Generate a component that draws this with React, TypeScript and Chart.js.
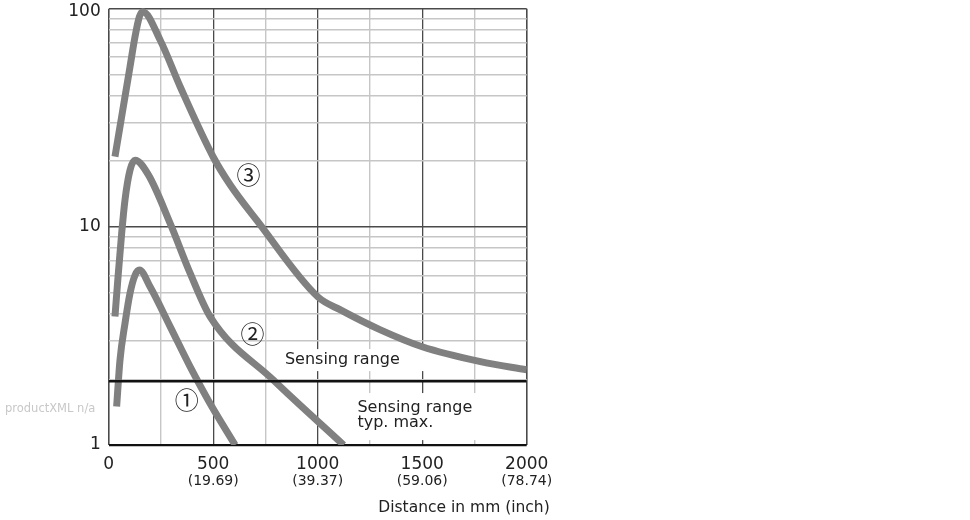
import React, { useEffect, useRef } from "react";
import { Chart, registerables } from "chart.js";

Chart.register(...registerables);

// ---- data ----
const xTicks = [0, 500, 1000, 1500, 2000];
const xTickInch = ["", "(19.69)", "(39.37)", "(59.06)", "(78.74)"];
const yTicks = [1, 10, 100];
const yTickLabels = ["1", "10", "100"];
const yGrid = [1, 2, 3, 4, 5, 6, 7, 8, 9, 10, 20, 30, 40, 50, 60, 70, 80, 90, 100];

const dist1 = [38, 54, 78, 102, 126, 147, 198, 294, 390, 485, 605];
const val1 = [1.5, 2.45, 3.61, 4.96, 6.0, 6.34, 5.31, 3.49, 2.28, 1.55, 1.0];

const dist2 = [30, 46, 62, 78, 102, 126, 190, 294, 390, 485, 789, 1124];
const val2 = [3.88, 6.12, 9.33, 13.3, 18.2, 20.2, 17.3, 10.38, 6.12, 3.88, 1.98, 1.0];

const dist3 = [30, 54, 78, 102, 126, 147, 163, 246, 342, 500, 581, 709, 1000, 1109, 1300, 1500, 1779, 2000];
const val3 = [21.0, 28.8, 39.5, 54.2, 74.4, 91.9, 96.9, 71.9, 43.9, 20.9, 15.6, 10.7, 4.78, 4.16, 3.37, 2.82, 2.41, 2.21];

const sensingRangeDist = [0, 2000];
const sensingRangeVal = [1.96, 1.96];

const curveLabels = ["\u2460", "\u2461", "\u2462"];
const curveLabelDist = [374, 688, 669];
const curveLabelVal = [1.62, 3.27, 17.4];

const xTitle = "Distance in mm (inch)";
const rangeLabel = "Sensing range";
const rangeMaxLabel = ["Sensing range", "typ. max."];
const watermark = "productXML n/a";

const FONT = '"DejaVu Sans", sans-serif';

const pts = (xs: number[], ys: number[]) => xs.map((x, i) => ({ x, y: ys[i] }));

const textPlugin = {
  id: "texts",
  beforeDatasetsDraw(chart: any) {
    const ctx = chart.ctx;
    const xs = chart.scales.x;
    const ys = chart.scales.y;
    ctx.save();
    ctx.font = `16px ${FONT}`;
    ctx.fillStyle = "#fff";
    const cx = xs.getPixelForValue(1118);
    const cy = ys.getPixelForValue(2.45);
    const w = ctx.measureText(rangeLabel).width;
    ctx.fillRect(cx - w / 2 - 5, cy - 11, w + 40, 22);
    const lx = xs.getPixelForValue(1190);
    const ly1 = ys.getPixelForValue(1.477);
    const ly2 = ys.getPixelForValue(1.26);
    const w2 = Math.max(...rangeMaxLabel.map((t) => ctx.measureText(t).width));
    ctx.fillRect(lx - 5, ly1 - 15, w2 + 10, ly2 - ly1 + 32);
    ctx.restore();
  },
  afterDraw(chart: any) {
    const ctx = chart.ctx;
    const xs = chart.scales.x;
    const ys = chart.scales.y;
    ctx.save();
    ctx.fillStyle = "#222";
    ctx.textBaseline = "middle";

    ctx.font = `17px ${FONT}`;
    ctx.textAlign = "right";
    yTicks.forEach((v, i) => {
      const y = Math.max(ys.getPixelForValue(v), 12);
      ctx.fillText(yTickLabels[i], xs.left - 8, y);
    });

    ctx.textAlign = "center";
    xTicks.forEach((v, i) => {
      const x = xs.getPixelForValue(v);
      ctx.font = `17px ${FONT}`;
      ctx.fillText(String(v), x, ys.bottom + 20);
      if (xTickInch[i]) {
        ctx.font = `14px ${FONT}`;
        ctx.fillText(xTickInch[i], x, ys.bottom + 36);
      }
    });

    ctx.font = `15.5px ${FONT}`;
    ctx.fillText(xTitle, 464, 508);

    ctx.font = `16px ${FONT}`;
    ctx.fillText(rangeLabel, xs.getPixelForValue(1118), ys.getPixelForValue(2.45));
    ctx.textAlign = "left";
    ctx.fillText(rangeMaxLabel[0], xs.getPixelForValue(1190), ys.getPixelForValue(1.477));
    ctx.fillText(rangeMaxLabel[1], xs.getPixelForValue(1190), ys.getPixelForValue(1.26));

    ctx.textAlign = "center";
    ctx.font = `24px "Noto Sans CJK JP", ${FONT}`;
    curveLabels.forEach((t, i) => {
      ctx.fillText(t, xs.getPixelForValue(curveLabelDist[i]), ys.getPixelForValue(curveLabelVal[i]) + 1);
    });

    ctx.textAlign = "left";
    ctx.fillStyle = "#c8c8c8";
    ctx.font = `11.5px ${FONT}`;
    ctx.fillText(watermark, 5, 409);
    ctx.restore();
  },
};

export default function App() {
  const ref = useRef<HTMLCanvasElement | null>(null);
  useEffect(() => {
    if (!ref.current) return;
    const curve = (xs: number[], ys: number[]) => ({
      data: pts(xs, ys),
      borderColor: "#808080",
      borderWidth: 7,
      pointRadius: 0,
      cubicInterpolationMode: "monotone" as const,
      borderCapStyle: "butt" as const,
      borderJoinStyle: "round" as const,
      clip: { left: 0, top: 6, right: 0, bottom: 0 },
      fill: false,
    });
    const chart = new Chart(ref.current, {
      type: "line",
      data: {
        datasets: [
          {
            data: pts(sensingRangeDist, sensingRangeVal),
            borderColor: "#111",
            borderWidth: 2.5,
            pointRadius: 0,
            fill: false,
          },
          curve(dist1, val1),
          curve(dist2, val2),
          curve(dist3, val3),
        ],
      },
      options: {
        responsive: false,
        animation: false,
        events: [],
        layout: { padding: { left: 0, top: 8.7, right: 443.3, bottom: 0 } },
        plugins: { legend: { display: false }, tooltip: { enabled: false } },
        scales: {
          x: {
            type: "linear",
            min: 0,
            max: 2000,
            ticks: { display: false, stepSize: 250 },
            border: { display: false },
            grid: {
              drawTicks: false,
              tickLength: 0,
              color: (c: any) => (c.tick && c.tick.value % 500 === 0 ? "#4a4a4a" : "#c6c6c6"),
              lineWidth: (c: any) =>
                c.tick && (c.tick.value === 0 || c.tick.value === 2000) ? 1.6 : c.tick && c.tick.value % 500 === 0 ? 1.3 : 1.4,
            },
            afterFit: (s: any) => {
              s.height = 75;
            },
          },
          y: {
            type: "logarithmic",
            min: 1,
            max: 100,
            ticks: { display: false },
            border: { display: false },
            afterBuildTicks: (s: any) => {
              s.ticks = yGrid.map((v) => ({ value: v }));
            },
            grid: {
              drawTicks: false,
              tickLength: 0,
              color: (c: any) => {
                const v = c.tick ? c.tick.value : 0;
                if (v === 1) return "#111";
                if (v === 10 || v === 100) return "#4a4a4a";
                return "#c6c6c6";
              },
              lineWidth: (c: any) => {
                const v = c.tick ? c.tick.value : 0;
                if (v === 1) return 2.2;
                return 1.4;
              },
            },
            afterFit: (s: any) => {
              s.width = 108.7;
            },
          },
        },
      },
      plugins: [textPlugin],
    });
    return () => chart.destroy();
  }, []);
  return (
    <div style={{ position: "absolute", left: 0, top: 0, width: 970, height: 520, background: "#fff" }}>
      <canvas ref={ref} width={970} height={520} style={{ display: "block" }} />
    </div>
  );
}
